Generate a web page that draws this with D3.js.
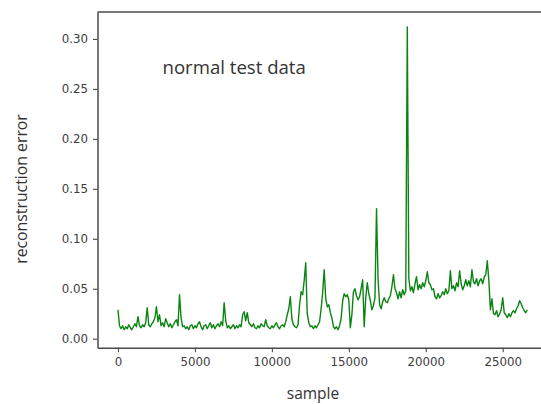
<!DOCTYPE html>
<html>
<head>
<meta charset="utf-8">
<script src="https://cdn.jsdelivr.net/npm/d3@7"></script>
<style>
  html, body { margin: 0; padding: 0; background: #fff; }
  svg { display: block; }
</style>
</head>
<body>
<svg id="chart" width="541" height="404"></svg>
<script>
// Reconstruction error per sample, one reading every 100 samples
const sampleStep = 100;
const errors = [
  0.029, 0.013, 0.010, 0.013, 0.009, 0.012, 0.010, 0.014, 0.011, 0.009,
  0.012, 0.015, 0.012, 0.022, 0.013, 0.011, 0.014, 0.012, 0.016, 0.031,
  0.014, 0.012, 0.015, 0.017, 0.021, 0.032, 0.017, 0.024, 0.013, 0.016,
  0.012, 0.020, 0.016, 0.012, 0.015, 0.011, 0.014, 0.017, 0.019, 0.013,
  0.044, 0.021, 0.012, 0.013, 0.010, 0.012, 0.009, 0.013, 0.014, 0.010,
  0.013, 0.011, 0.015, 0.017, 0.012, 0.009, 0.013, 0.014, 0.010, 0.013,
  0.016, 0.011, 0.014, 0.010, 0.013, 0.015, 0.012, 0.017, 0.013, 0.036,
  0.018, 0.011, 0.013, 0.010, 0.012, 0.014, 0.010, 0.013, 0.011, 0.014,
  0.012, 0.024, 0.027, 0.018, 0.026, 0.016, 0.014, 0.012, 0.015, 0.011,
  0.010, 0.013, 0.011, 0.015, 0.013, 0.012, 0.019, 0.013, 0.011, 0.010,
  0.013, 0.011, 0.014, 0.016, 0.012, 0.010, 0.013, 0.014, 0.012, 0.017,
  0.024, 0.030, 0.042, 0.020, 0.014, 0.012, 0.011, 0.014, 0.034, 0.047,
  0.044, 0.058, 0.076, 0.025, 0.016, 0.012, 0.013, 0.010, 0.013, 0.011,
  0.014, 0.017, 0.030, 0.046, 0.069, 0.040, 0.032, 0.034, 0.026, 0.021,
  0.012, 0.010, 0.012, 0.009, 0.013, 0.020, 0.038, 0.045, 0.042, 0.044,
  0.039, 0.011, 0.024, 0.047, 0.050, 0.043, 0.039, 0.042, 0.050, 0.059,
  0.012, 0.041, 0.056, 0.045, 0.038, 0.029, 0.033, 0.041, 0.130, 0.060,
  0.034, 0.030, 0.037, 0.041, 0.037, 0.036, 0.040, 0.043, 0.052, 0.064,
  0.050, 0.046, 0.040, 0.047, 0.041, 0.049, 0.044, 0.048, 0.312, 0.060,
  0.048, 0.052, 0.046, 0.055, 0.062, 0.049, 0.054, 0.050, 0.056, 0.052,
  0.058, 0.067, 0.056, 0.054, 0.049, 0.050, 0.042, 0.040, 0.045, 0.041,
  0.043, 0.047, 0.044, 0.050, 0.045, 0.048, 0.068, 0.050, 0.053, 0.048,
  0.056, 0.052, 0.068, 0.055, 0.049, 0.053, 0.059, 0.053, 0.058, 0.052,
  0.069, 0.057, 0.055, 0.060, 0.053, 0.058, 0.060, 0.055, 0.062, 0.064,
  0.078, 0.058, 0.029, 0.040, 0.025, 0.024, 0.028, 0.022, 0.025, 0.029,
  0.041, 0.026, 0.024, 0.021, 0.025, 0.022, 0.026, 0.028, 0.026, 0.030,
  0.033, 0.038, 0.035, 0.031, 0.028, 0.026, 0.029
];
const xTicks = [0, 5000, 10000, 15000, 20000, 25000];
const yTicks = [0.00, 0.05, 0.10, 0.15, 0.20, 0.25, 0.30];
const xLabel = "sample";
const yLabel = "reconstruction error";
const note = "normal test data";

const svg = d3.select("#chart");
const plot = { left: 97.5, right: 547.8, top: 12, bottom: 347.7 };

const x = d3.scaleLinear().domain([-1330, 27930]).range([plot.left, plot.right]);
const y = d3.scaleLinear().domain([-0.009, 0.327]).range([plot.bottom, plot.top]);

const axisColor = "#4a4a4a";
const tickFont = "'DejaVu Sans', sans-serif";
const labelFont = "'Open Sans', sans-serif";

// data line
const line = d3.line()
  .x((d, i) => x(i * sampleStep))
  .y(d => y(d));

svg.append("path")
  .datum(errors)
  .attr("d", line)
  .attr("fill", "none")
  .attr("stroke", "#0a8410")
  .attr("stroke-width", 1.4)
  .attr("stroke-linejoin", "round");

// axes
const xAxis = svg.append("g")
  .attr("transform", `translate(0,${plot.bottom})`)
  .call(d3.axisBottom(x).tickValues(xTicks).tickFormat(d3.format("d"))
    .tickSizeInner(4.5).tickSizeOuter(0).tickPadding(5));

const yAxis = svg.append("g")
  .attr("transform", `translate(${plot.left},0)`)
  .call(d3.axisLeft(y).tickValues(yTicks).tickFormat(d3.format(".2f"))
    .tickSizeInner(4.5).tickSizeOuter(0).tickPadding(5));

[xAxis, yAxis].forEach(g => {
  g.select(".domain").attr("stroke", axisColor).attr("stroke-width", 1.5);
  g.selectAll(".tick line").attr("stroke", axisColor).attr("stroke-width", 1.1);
  g.selectAll(".tick text")
    .attr("fill", "#3c3c3c")
    .style("font-family", tickFont)
    .style("font-size", "11.8px");
});

// top spine
svg.append("line")
  .attr("x1", plot.left).attr("x2", plot.right)
  .attr("y1", plot.top).attr("y2", plot.top)
  .attr("stroke", axisColor).attr("stroke-width", 1.5);

// axis titles
svg.append("text")
  .attr("x", 313).attr("y", 399)
  .attr("text-anchor", "middle")
  .attr("fill", "#333")
  .style("font-family", labelFont)
  .style("font-size", "15.5px")
  .text(xLabel);

svg.append("text")
  .attr("transform", "translate(27,189) rotate(-90)")
  .attr("text-anchor", "middle")
  .attr("fill", "#333")
  .style("font-family", labelFont)
  .style("font-size", "15.8px")
  .text(yLabel);

// annotation
svg.append("text")
  .attr("x", 162.5).attr("y", 73.5)
  .attr("fill", "#333")
  .style("font-family", labelFont)
  .style("font-size", "18.6px")
  .text(note);
</script>
</body>
</html>
